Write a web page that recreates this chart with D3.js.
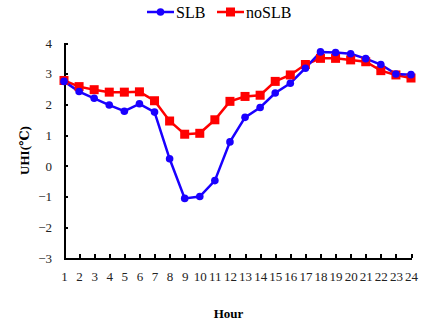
<!DOCTYPE html>
<html>
<head>
<script src="https://cdn.jsdelivr.net/npm/d3@7"></script>
<style>
    body { margin: 0; background: #fff; }
    .axis path, .axis line { fill: none; stroke: black; stroke-width: 2; shape-rendering: crispEdges; }
    .axis text { font-family: "Times New Roman", "Liberation Serif", "DejaVu Serif", serif; font-size: 13px; fill: #222; }
    .label { font-family: "Times New Roman", "Liberation Serif", "DejaVu Serif", serif; font-size: 13px; font-weight: bold; text-anchor: middle; }
    .legend text { font-family: "Times New Roman", "Liberation Serif", "DejaVu Serif", serif; font-size: 16px; }
</style>
</head>
<body>
<div id="chart"></div>
<script>
    var hours = d3.range(1, 25);
    var slb = [2.75, 2.42, 2.2, 1.98, 1.78, 2.02, 1.75, 0.23, -1.06, -1.0, -0.48, 0.78,
               1.58, 1.9, 2.37, 2.69, 3.18, 3.71, 3.69, 3.65, 3.49, 3.3, 2.99, 2.97];
    var noslb = [2.78, 2.58, 2.48, 2.4, 2.4, 2.41, 2.12, 1.46, 1.03, 1.06, 1.5, 2.1,
                 2.26, 2.3, 2.75, 2.96, 3.3, 3.5, 3.5, 3.45, 3.39, 3.1, 2.96, 2.86];
    var yTicks = [-3, -2, -1, 0, 1, 2, 3, 4];

    var W = 430, H = 329;
    var margin = { top: 43, left: 64, bottom: 71, right: 19 };

    var svg = d3.select("#chart").append("svg")
        .attr("width", W)
        .attr("height", H);

    var x = d3.scaleLinear().domain([1, 24]).range([margin.left, W - margin.right]);
    var y = d3.scaleLinear().domain([-3, 4]).range([H - margin.bottom, margin.top]);

    // axes
    svg.append("g")
        .attr("class", "axis")
        .attr("transform", "translate(0," + y(-3) + ")")
        .call(d3.axisBottom(x).tickValues(hours).tickFormat(d3.format("d"))
            .tickSize(-4).tickSizeOuter(0).tickPadding(18))
        .selectAll("text").attr("dy", "0.35em");

    svg.append("g")
        .attr("class", "axis")
        .attr("transform", "translate(" + x(1) + ",0)")
        .call(d3.axisLeft(y).tickValues(yTicks).tickFormat(d3.format("d"))
            .tickSize(-4).tickSizeOuter(0).tickPadding(12));

    svg.append("text")
        .attr("class", "label")
        .attr("x", x(1) + (x(24) - x(1)) / 2 - 9)
        .attr("y", 318)
        .text("Hour");

    svg.append("text")
        .attr("class", "label")
        .attr("transform", "translate(29," + y(0.5) + ") rotate(-90)")
        .text("UHI(℃)");

    var line = d3.line()
        .x(function (d, i) { return x(hours[i]); })
        .y(function (d) { return y(d); });

    // noSLB
    svg.append("path")
        .datum(noslb)
        .attr("d", line)
        .attr("fill", "none")
        .attr("stroke", "#ff0000")
        .attr("stroke-width", 2.5);

    // SLB
    svg.append("path")
        .datum(slb)
        .attr("d", line)
        .attr("fill", "none")
        .attr("stroke", "#1a00ff")
        .attr("stroke-width", 2.5);

    svg.selectAll(".sq")
        .data(noslb)
        .enter().append("rect")
        .attr("class", "sq")
        .attr("x", function (d, i) { return x(hours[i]) - 4.5; })
        .attr("y", function (d) { return y(d) - 4.5; })
        .attr("width", 9)
        .attr("height", 9)
        .attr("fill", "#ff0000");

    svg.selectAll(".dot")
        .data(slb)
        .enter().append("circle")
        .attr("class", "dot")
        .attr("cx", function (d, i) { return x(hours[i]); })
        .attr("cy", function (d) { return y(d); })
        .attr("r", 3.8)
        .attr("fill", "#1a00ff");

    // legend
    var legend = svg.append("g").attr("class", "legend");
    var items = [
        { name: "SLB", color: "#1a00ff", x0: 147, shape: "circle" },
        { name: "noSLB", color: "#ff0000", x0: 217, shape: "square" }
    ];
    items.forEach(function (it) {
        var g = legend.append("g").attr("transform", "translate(" + it.x0 + ",12)");
        g.append("line").attr("x1", 0).attr("x2", 27).attr("y1", 0).attr("y2", 0)
            .attr("stroke", it.color).attr("stroke-width", 2.5);
        if (it.shape === "circle") {
            g.append("circle").attr("cx", 13.5).attr("cy", 0).attr("r", 3.8).attr("fill", it.color);
        } else {
            g.append("rect").attr("x", 9).attr("y", -4.5).attr("width", 9).attr("height", 9).attr("fill", it.color);
        }
        g.append("text").attr("x", 29).attr("y", 0).attr("dy", "0.35em").text(it.name);
    });
</script>
</body>
</html>
